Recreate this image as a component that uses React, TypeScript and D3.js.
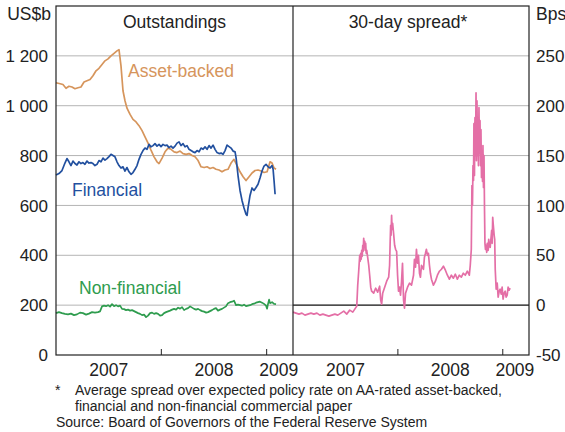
import React, { useEffect, useRef } from 'react';
import * as d3 from 'd3';

// decimal-year dates and values
const abDates = [2007.0, 2007.04, 2007.066, 2007.095, 2007.123, 2007.152, 2007.18, 2007.209, 2007.237, 2007.266, 2007.294, 2007.323, 2007.351, 2007.38, 2007.408, 2007.437, 2007.465, 2007.494, 2007.522, 2007.551, 2007.579, 2007.598, 2007.617, 2007.636, 2007.655, 2007.674, 2007.703, 2007.731, 2007.76, 2007.788, 2007.817, 2007.845, 2007.874, 2007.902, 2007.931, 2007.959, 2007.978, 2008.007, 2008.035, 2008.064, 2008.092, 2008.121, 2008.149, 2008.178, 2008.206, 2008.235, 2008.263, 2008.292, 2008.32, 2008.349, 2008.377, 2008.406, 2008.434, 2008.462, 2008.491, 2008.519, 2008.548, 2008.576, 2008.605, 2008.633, 2008.662, 2008.69, 2008.719, 2008.747, 2008.776, 2008.804, 2008.833, 2008.861, 2008.89, 2008.918, 2008.947, 2008.975, 2009.004, 2009.032, 2009.051, 2009.07, 2009.089];
const abValues = [1092, 1088, 1085, 1070, 1078, 1075, 1068, 1072, 1075, 1095, 1100, 1105, 1120, 1140, 1150, 1165, 1180, 1188, 1200, 1210, 1220, 1225, 1160, 1060, 1020, 990, 965, 945, 935, 920, 900, 875, 850, 822, 795, 775, 768, 790, 815, 830, 825, 815, 812, 818, 808, 805, 808, 800, 795, 780, 755, 752, 755, 748, 752, 745, 742, 735, 742, 745, 770, 785, 760, 735, 715, 700, 715, 730, 740, 742, 738, 732, 735, 775, 770, 750, 745];

const finDates = [2007.0, 2007.028, 2007.057, 2007.085, 2007.104, 2007.123, 2007.142, 2007.161, 2007.18, 2007.199, 2007.218, 2007.237, 2007.256, 2007.275, 2007.294, 2007.313, 2007.332, 2007.351, 2007.37, 2007.389, 2007.408, 2007.427, 2007.446, 2007.465, 2007.484, 2007.503, 2007.522, 2007.541, 2007.56, 2007.579, 2007.598, 2007.617, 2007.636, 2007.655, 2007.674, 2007.693, 2007.712, 2007.731, 2007.75, 2007.769, 2007.788, 2007.807, 2007.826, 2007.845, 2007.864, 2007.883, 2007.902, 2007.921, 2007.94, 2007.959, 2007.978, 2007.997, 2008.016, 2008.035, 2008.054, 2008.073, 2008.092, 2008.111, 2008.13, 2008.149, 2008.168, 2008.187, 2008.206, 2008.225, 2008.244, 2008.263, 2008.282, 2008.301, 2008.32, 2008.339, 2008.358, 2008.377, 2008.396, 2008.415, 2008.434, 2008.453, 2008.472, 2008.491, 2008.51, 2008.529, 2008.548, 2008.567, 2008.586, 2008.605, 2008.624, 2008.643, 2008.662, 2008.681, 2008.7, 2008.71, 2008.728, 2008.747, 2008.766, 2008.785, 2008.804, 2008.814, 2008.823, 2008.842, 2008.861, 2008.88, 2008.899, 2008.918, 2008.937, 2008.956, 2008.975, 2008.994, 2009.013, 2009.032, 2009.051, 2009.061, 2009.07, 2009.08];
const finValues = [722, 728, 740, 770, 788, 775, 760, 778, 768, 762, 775, 768, 772, 765, 778, 770, 772, 768, 760, 765, 780, 775, 790, 782, 788, 796, 805, 800, 795, 775, 760, 750, 755, 738, 752, 735, 725, 732, 745, 760, 785, 805, 820, 830, 825, 845, 835, 840, 848, 838, 845, 836, 845, 840, 842, 832, 838, 830, 838, 850, 855, 840, 848, 835, 840, 825, 820, 815, 812, 820, 815, 830, 825, 835, 825, 840, 830, 842, 825, 812, 808, 810, 805, 820, 842, 836, 830, 818, 815, 790, 720, 660, 620, 590, 565, 560, 590, 640, 670, 660, 672, 685, 710, 738, 758, 765, 755, 750, 760, 745, 700, 645];

const nonFinDates = [2007.0, 2007.028, 2007.057, 2007.085, 2007.114, 2007.142, 2007.171, 2007.199, 2007.228, 2007.256, 2007.285, 2007.313, 2007.342, 2007.37, 2007.399, 2007.418, 2007.437, 2007.456, 2007.475, 2007.494, 2007.513, 2007.532, 2007.551, 2007.57, 2007.589, 2007.608, 2007.627, 2007.646, 2007.665, 2007.684, 2007.703, 2007.722, 2007.741, 2007.76, 2007.779, 2007.798, 2007.817, 2007.836, 2007.855, 2007.874, 2007.893, 2007.912, 2007.931, 2007.95, 2007.969, 2007.988, 2008.007, 2008.026, 2008.045, 2008.064, 2008.083, 2008.102, 2008.121, 2008.14, 2008.159, 2008.178, 2008.197, 2008.216, 2008.235, 2008.254, 2008.273, 2008.292, 2008.311, 2008.33, 2008.349, 2008.368, 2008.387, 2008.406, 2008.425, 2008.444, 2008.462, 2008.481, 2008.5, 2008.519, 2008.538, 2008.557, 2008.576, 2008.595, 2008.614, 2008.633, 2008.652, 2008.671, 2008.69, 2008.709, 2008.728, 2008.747, 2008.766, 2008.785, 2008.804, 2008.823, 2008.842, 2008.861, 2008.88, 2008.899, 2008.918, 2008.937, 2008.956, 2008.975, 2008.994, 2009.004, 2009.013, 2009.023, 2009.032, 2009.051, 2009.07, 2009.089];
const nonFinValues = [168, 172, 168, 165, 163, 166, 160, 163, 170, 168, 162, 166, 172, 170, 172, 175, 195, 198, 196, 200, 194, 204, 196, 200, 195, 198, 185, 184, 180, 182, 178, 180, 176, 172, 168, 165, 160, 162, 152, 158, 168, 170, 165, 168, 165, 158, 160, 168, 172, 175, 178, 182, 185, 182, 190, 186, 192, 180, 185, 188, 195, 190, 185, 182, 185, 180, 176, 174, 170, 172, 176, 180, 185, 188, 178, 182, 185, 190, 195, 208, 212, 214, 218, 200, 202, 200, 198, 202, 196, 198, 200, 204, 206, 210, 212, 214, 210, 205, 198, 186, 205, 222, 208, 212, 205, 204];

const spreadDates = [2007.0, 2007.028, 2007.057, 2007.085, 2007.114, 2007.142, 2007.171, 2007.199, 2007.228, 2007.256, 2007.285, 2007.313, 2007.342, 2007.37, 2007.399, 2007.427, 2007.456, 2007.484, 2007.513, 2007.541, 2007.57, 2007.589, 2007.608, 2007.617, 2007.627, 2007.636, 2007.641, 2007.646, 2007.65, 2007.655, 2007.66, 2007.665, 2007.669, 2007.674, 2007.679, 2007.684, 2007.688, 2007.693, 2007.698, 2007.703, 2007.712, 2007.722, 2007.731, 2007.741, 2007.75, 2007.769, 2007.788, 2007.807, 2007.826, 2007.836, 2007.845, 2007.855, 2007.874, 2007.893, 2007.912, 2007.921, 2007.926, 2007.931, 2007.935, 2007.94, 2007.945, 2007.95, 2007.959, 2007.969, 2007.978, 2007.988, 2007.997, 2008.006, 2008.016, 2008.025, 2008.035, 2008.044, 2008.054, 2008.063, 2008.073, 2008.092, 2008.111, 2008.13, 2008.149, 2008.158, 2008.168, 2008.177, 2008.187, 2008.196, 2008.206, 2008.215, 2008.225, 2008.244, 2008.253, 2008.263, 2008.272, 2008.282, 2008.291, 2008.301, 2008.31, 2008.32, 2008.339, 2008.358, 2008.377, 2008.396, 2008.415, 2008.434, 2008.453, 2008.472, 2008.491, 2008.51, 2008.529, 2008.548, 2008.567, 2008.586, 2008.605, 2008.624, 2008.643, 2008.662, 2008.681, 2008.69, 2008.7, 2008.706, 2008.711, 2008.716, 2008.721, 2008.725, 2008.73, 2008.735, 2008.74, 2008.745, 2008.749, 2008.754, 2008.759, 2008.764, 2008.768, 2008.773, 2008.778, 2008.783, 2008.788, 2008.792, 2008.797, 2008.802, 2008.807, 2008.811, 2008.816, 2008.821, 2008.826, 2008.83, 2008.835, 2008.84, 2008.847, 2008.852, 2008.861, 2008.866, 2008.871, 2008.88, 2008.89, 2008.894, 2008.899, 2008.904, 2008.909, 2008.918, 2008.923, 2008.928, 2008.937, 2008.947, 2008.956, 2008.966, 2008.975, 2008.985, 2008.994, 2009.003, 2009.013, 2009.023, 2009.032, 2009.042, 2009.051, 2009.061, 2009.07, 2009.08];
const spreadValues = [-7, -8, -9, -8, -10, -9, -8, -9, -8, -10, -9, -10, -11, -10, -9, -10, -8, -6, -9, -5, -7, -4, -1, 20, 35, 50, 44, 52, 46, 55, 49, 60, 54, 67, 58, 64, 55, 62, 52, 55, 48, 40, 30, 18, 14, 12, 17, 13, 19, 5, 1, 12, 18, 24, 28, 40, 62, 80, 70, 90, 76, 82, 72, 60, 56, 54, 30, 14, 18, 10, 24, 42, 5, -3, 12, 18, 22, 20, 30, 46, 38, 56, 42, 50, 32, 28, 40, 36, 48, 52, 56, 50, 52, 40, 32, 26, 20, 24, 30, 34, 36, 39, 35, 30, 26, 30, 27, 31, 26, 30, 28, 32, 30, 34, 30, 40, 56, 120, 100, 140, 125, 182, 130, 188, 150, 213, 145, 205, 150, 170, 140, 198, 152, 185, 140, 176, 128, 152, 124, 160, 118, 150, 95, 62, 56, 60, 53, 62, 55, 66, 60, 58, 70, 75, 62, 88, 81, 70, 66, 36, 16, 22, 8, 14, 16, 11, 18, 6, 12, 14, 8, 10, 18, 15, 17];

const leftTicks = [0, 200, 400, 600, 800, 1000, 1200];
const rightTicks = [-50, 0, 50, 100, 150, 200, 250];
const yearLabels = [2007, 2008, 2009];

const font = "Arial, 'Liberation Sans', sans-serif";

const App: React.FC = () => {
  const ref = useRef<SVGSVGElement>(null);

  useEffect(() => {
    if (!ref.current) return;
    const svg = d3.select(ref.current);
    svg.selectAll("*").remove();

    const top = 6, bottom = 355;
    const left = { x0: 56, x1: 293 };
    const right = { x0: 293, x1: 529 };
    const xDomain: [number, number] = [2007, 2009.25];

    const xL = d3.scaleLinear().domain(xDomain).range([left.x0, left.x1]);
    const xR = d3.scaleLinear().domain(xDomain).range([right.x0, right.x1]);
    const yL = d3.scaleLinear().domain([0, 1400]).range([bottom, top]);
    const yR = d3.scaleLinear().domain([-50, 300]).range([bottom, top]);

    svg.append("rect").attr("width", 565).attr("height", 432).attr("fill", "white");

    // gridlines
    leftTicks.filter(t => t > 0).forEach(t => {
      svg.append("line")
        .attr("x1", left.x0).attr("x2", right.x1)
        .attr("y1", yL(t)).attr("y2", yL(t))
        .attr("stroke", "#b4b4b4").attr("stroke-width", 1);
    });

    // zero line in the spread panel
    svg.append("line")
      .attr("x1", right.x0).attr("x2", right.x1)
      .attr("y1", yR(0)).attr("y2", yR(0))
      .attr("stroke", "#222").attr("stroke-width", 1.2);

    // x ticks
    [xL, xR].forEach(x => {
      [2008, 2009].forEach(yr => {
        svg.append("line")
          .attr("x1", x(yr)).attr("x2", x(yr))
          .attr("y1", bottom).attr("y2", bottom - 6)
          .attr("stroke", "#222").attr("stroke-width", 1);
      });
      yearLabels.forEach(yr => {
        const a = x(yr);
        const b = Math.min(x(yr + 1), x(xDomain[1]));
        svg.append("text")
          .attr("x", (a + b) / 2 - (yr === 2009 ? 1 : 0))
          .attr("y", 375.5)
          .attr("text-anchor", "middle")
          .style("font-family", font)
          .style("font-size", "17.5px")
          .style("fill", "#222")
          .text(yr);
      });
    });

    const line = (x: d3.ScaleLinear<number, number>, y: d3.ScaleLinear<number, number>) =>
      d3.line<[number, number]>().x(d => x(d[0])).y(d => y(d[1]));

    const series = [
      { dates: nonFinDates, values: nonFinValues, color: "#2e9c4e" },
      { dates: abDates, values: abValues, color: "#d6955c" },
      { dates: finDates, values: finValues, color: "#22509f" },
    ];
    series.forEach(s => {
      const pts = s.dates.map((d, i) => [d, s.values[i]] as [number, number]);
      svg.append("path")
        .attr("d", line(xL, yL)(pts))
        .attr("fill", "none")
        .attr("stroke", s.color)
        .attr("stroke-width", 1.7)
        .attr("stroke-linejoin", "round");
    });

    const spreadPts = spreadDates.map((d, i) => [d, spreadValues[i]] as [number, number]);
    svg.append("path")
      .attr("d", line(xR, yR)(spreadPts))
      .attr("fill", "none")
      .attr("stroke", "#e46fa6")
      .attr("stroke-width", 1.7)
      .attr("stroke-linejoin", "round");

    // frame
    const frame = svg.append("g").attr("stroke", "#222").attr("stroke-width", 1.2).attr("fill", "none");
    frame.append("rect").attr("x", left.x0).attr("y", top).attr("width", right.x1 - left.x0).attr("height", bottom - top);
    frame.append("line").attr("x1", left.x1).attr("x2", left.x1).attr("y1", top).attr("y2", bottom);

    // y axis labels
    leftTicks.forEach(t => {
      svg.append("text")
        .attr("x", 48).attr("y", yL(t)).attr("dy", "0.36em")
        .attr("text-anchor", "end")
        .style("font-family", font).style("font-size", "17px").style("fill", "#222")
        .text(d3.format(",")(t).replace(",", " "));
    });
    rightTicks.forEach(t => {
      svg.append("text")
        .attr("x", 536).attr("y", yR(t)).attr("dy", "0.36em")
        .style("font-family", font).style("font-size", "17px").style("fill", "#222")
        .text(t);
    });

    const addText = (x: number, y: number, s: string, opts: { anchor?: string; size?: number; color?: string } = {}) =>
      svg.append("text")
        .attr("x", x).attr("y", y)
        .attr("text-anchor", opts.anchor || "start")
        .style("font-family", font)
        .style("font-size", `${opts.size || 17.5}px`)
        .style("fill", opts.color || "#222")
        .text(s);

    addText(51, 20, "US$b", { anchor: "end" });
    addText(536, 20, "Bps");
    addText((left.x0 + left.x1) / 2, 27.5, "Outstandings", { anchor: "middle" });
    addText((right.x0 + right.x1) / 2 - 3, 27.5, "30-day spread*", { anchor: "middle" });

    addText(128, 77, "Asset-backed", { color: "#d6955c" });
    addText(72, 196, "Financial", { color: "#22509f" });
    addText(79, 294, "Non-financial", { color: "#2e9c4e" });

    addText(55, 395, "*", { size: 14 });
    addText(75, 395, "Average spread over expected policy rate on AA-rated asset-backed,", { size: 14 });
    addText(75, 411, "financial and non-financial commercial paper", { size: 14 });
    addText(56, 427, "Source: Board of Governors of the Federal Reserve System", { size: 14 });
  }, []);

  return (
    <svg
      ref={ref}
      width={565}
      height={432}
      style={{ position: 'absolute', left: 0, top: 0, display: 'block' }}
    />
  );
};

export default App;
